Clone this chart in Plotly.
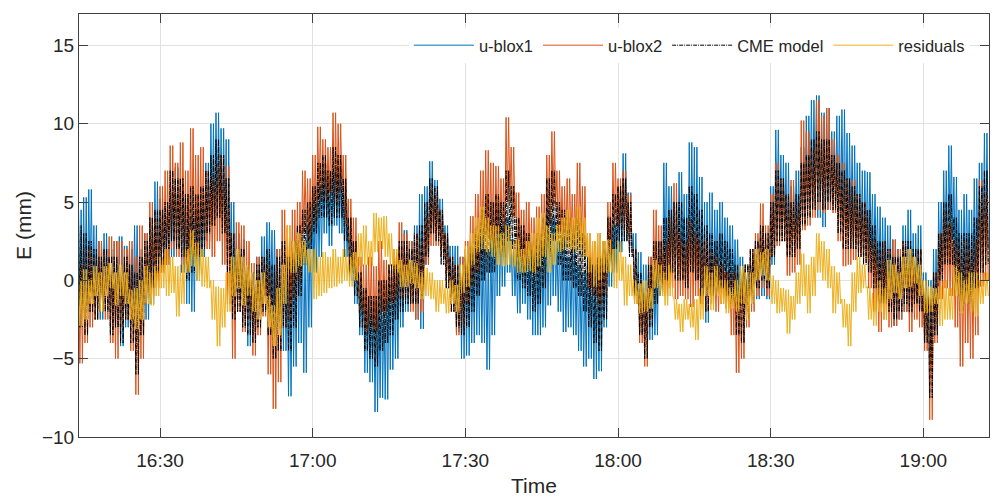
import plotly.graph_objects as go
from datetime import datetime, timedelta

# sample minutes after 16:00 (one envelope reading per minute)
minutes = list(range(14, 193))

blox1_hi = [4.5, 5.3, 5.8, 3.5, 2.5, 3.0, 2.0, 2.5, 2.8, 2.2,
            2.0, 3.5, 2.0, 3.0, 4.0, 6.3, 5.2, 4.5, 5.5, 7.2,
            6.0, 5.5, 4.0, 4.5, 5.0, 7.5, 10.0, 10.7, 9.7, 9.0,
            5.0, 3.0, 2.6, 1.0, 0.5, 1.5, 2.8, 3.7, 3.2, 2.0,
            1.5, 0.5, 1.5, 3.5, 2.5, 3.5, 5.0, 6.0, 7.5, 6.5,
            7.0, 7.2, 6.0, 4.0, 2.5, 0.5, -0.5, -1.0, -1.5, -1.0,
            -1.2, 0.9, 0.5, 2.0, 3.2, 2.5, 3.5, 5.5, 6.0, 7.6,
            6.4, 5.2, 3.5, 2.2, 2.2, 1.5, 2.0, 1.5, 2.0, 2.6,
            2.0, 3.0, 4.7, 3.5, 4.0, 2.6, 2.0, 2.6, 1.5, 2.0,
            1.5, 2.5, 4.5, 4.0, 2.5, 2.6, 1.5, 2.0, 1.0, 0.5,
            1.3, 0.5, 1.0, 2.5, 4.1, 3.5, 6.0, 8.1, 5.6, 3.0,
            1.8, 1.0, 1.5, 0.5, 2.5, 7.5, 6.0, 5.0, 6.9, 5.5,
            8.8, 8.5, 6.6, 5.0, 5.6, 4.5, 5.0, 4.0, 3.5, 2.6,
            1.5, 0.9, 1.5, 2.5, 3.2, 2.0, 6.0, 9.6, 8.0, 7.5,
            6.0, 7.0, 8.5, 10.5, 11.5, 11.8, 10.7, 11.0, 9.5, 10.5,
            10.9, 9.4, 8.6, 7.5, 7.0, 6.9, 5.5, 4.7, 4.0, 3.5,
            2.6, 2.0, 3.5, 4.5, 3.0, 3.5, 0.5, 0.0, 2.0, 5.0,
            7.0, 8.6, 6.6, 4.5, 5.5, 4.5, 6.5, 7.5, 9.4]
blox1_lo = [-1.5, -2.0, -1.0, -1.5, -2.5, -1.5, -3.0, -2.5, -4.2, -3.0,
            -1.5, -1.5, -2.0, -2.5, -1.5, 0.0, 0.5, 1.0, 1.5, 2.0,
            0.5, -1.5, -2.0, 0.0, 1.5, 2.5, 4.0, 4.5, 3.5, 1.0,
            -1.0, -1.2, -2.5, -4.2, -3.5, -2.5, -1.6, -1.0, -2.0, -3.0,
            -4.5, -7.4, -5.5, -4.0, -5.9, -3.0, 0.5, 1.5, 3.0, 2.2,
            3.5, 3.0, 1.5, 0.0, -1.5, -3.5, -5.9, -6.5, -8.4, -7.5,
            -7.6, -5.7, -5.0, -3.0, -2.0, -1.5, -2.5, -3.1, 1.0, 3.5,
            3.0, 1.5, 0.0, -1.0, -3.3, -5.0, -4.8, -4.0, -3.5, -4.0,
            -5.7, -3.5, -1.0, -0.4, 0.5, -1.0, -2.1, -1.5, -2.5, -3.5,
            -3.5, -3.0, -1.6, -1.0, -2.0, -3.3, -3.0, -3.5, -4.5, -5.5,
            -5.0, -6.3, -5.8, -3.0, -0.4, 0.5, 1.8, 2.5, 1.8, -1.0,
            -3.3, -3.5, -3.8, -3.5, -1.0, 0.9, 1.5, 0.5, 0.9, 0.0,
            1.0, 0.0, -1.5, -2.7, -1.0, 0.0, -0.5, -0.4, -0.8, -1.0,
            -1.5, -1.0, -0.8, -1.2, -1.0, -1.2, 1.0, 3.4, 3.0, 2.0,
            2.8, 3.0, 4.0, 4.7, 5.0, 4.0, 3.4, 4.5, 5.0, 4.0,
            3.5, 3.0, 2.6, 2.0, 1.8, 2.0, 1.0, -0.4, -0.5, -1.0,
            -2.9, -2.5, -2.0, -2.1, -1.5, -2.0, -3.5, -5.2, -3.0, 0.5,
            1.5, 2.6, 1.0, -1.2, 0.0, -0.5, 0.9, 1.5, 2.0]

blox2_hi = [1.0, 2.0, 2.0, 1.5, 2.5, 2.0, 2.8, 2.5, 2.5, 2.0,
            2.5, 1.5, 3.5, 3.0, 5.0, 4.0, 6.0, 7.0, 8.6, 7.5,
            8.8, 7.0, 9.7, 8.0, 8.5, 7.0, 6.5, 7.5, 8.0, 7.3,
            3.0, 3.7, 3.5, 2.5, 1.1, 1.5, 1.5, 1.0, 0.5, 2.0,
            4.5, 3.5, 4.5, 5.0, 7.0, 6.5, 8.0, 9.8, 9.0, 8.5,
            10.7, 10.0, 8.0, 5.2, 4.0, 1.5, 1.0, 1.5, 0.9, 2.5,
            1.3, 1.0, 2.0, 3.7, 3.0, 2.5, 3.0, 2.5, 4.0, 6.0,
            5.5, 4.5, 3.0, 1.5, 1.0, 1.5, 2.5, 4.1, 5.5, 7.0,
            8.3, 7.5, 7.3, 6.5, 10.4, 8.5, 5.6, 4.5, 5.0, 4.0,
            4.7, 5.5, 8.0, 9.5, 7.0, 6.0, 6.5, 5.5, 7.5, 6.0,
            3.0, 2.5, 3.0, 2.5, 5.0, 7.5, 6.5, 7.0, 5.5, 2.0,
            -0.1, -0.5, 1.5, 4.5, 3.5, 2.5, 4.0, 6.2, 3.0, 2.5,
            3.9, 3.0, 2.5, 2.6, 2.0, 1.5, 1.0, 0.5, 0.5, 0.5,
            0.5, 1.0, 2.0, 3.0, 4.9, 3.5, 5.5, 7.5, 6.5, 5.5,
            6.4, 5.0, 10.2, 9.5, 8.5, 11.5, 10.5, 11.0, 9.0, 8.0,
            7.5, 6.5, 6.4, 5.5, 5.0, 4.0, 2.6, 2.0, 2.5, 2.0,
            2.6, 2.0, 2.5, 2.0, 1.5, 2.0, -0.5, -1.2, 0.5, 3.0,
            4.5, 3.5, 2.6, 2.0, 2.5, 2.0, 2.6, 6.4, 5.5]
blox2_lo = [-5.3, -4.0, -3.0, -2.5, -2.0, -2.5, -4.0, -5.0, -3.0, -2.5,
            -4.5, -7.3, -5.0, -1.5, -1.0, -0.5, 0.5, 1.0, 2.0, 1.5,
            1.0, 0.5, 1.5, 1.5, 2.0, 2.0, 1.5, 2.5, 1.0, -1.5,
            -5.0, -2.0, -3.3, -2.5, -4.8, -3.5, -2.3, -6.0, -8.2, -6.5,
            -3.0, -2.5, -1.2, 0.0, 3.0, 2.5, 3.5, 5.2, 5.0, 5.6,
            5.0, 5.6, 3.5, 1.0, 0.0, -2.0, -3.3, -3.0, -3.3, -2.0,
            -2.0, -1.5, -1.2, -1.2, -1.0, -2.0, -2.5, -2.0, 1.0, 2.2,
            2.2, 1.5, -0.5, -2.0, -3.5, -3.0, -1.5, -0.4, 0.5, 1.5,
            2.6, 2.0, 3.0, 3.0, 5.0, 4.0, 1.5, 0.9, 1.0, 0.5,
            0.5, 1.5, 3.5, 4.7, 3.0, 2.2, 2.5, 2.2, 2.5, 1.5,
            -0.5, -1.0, -1.6, -1.0, 1.5, 3.5, 3.5, 3.0, 2.0, -1.5,
            -4.0, -5.5, -2.5, -0.4, -0.5, -1.0, -0.5, -1.2, -1.0, -1.2,
            -1.7, -1.0, -1.5, -2.0, -1.5, -2.0, -1.5, -1.8, -3.5, -5.9,
            -5.0, -3.0, -2.0, -1.0, -0.5, -1.0, 1.5, 2.2, 2.5, 0.3,
            0.5, 1.0, 3.2, 3.5, 4.0, 4.5, 4.3, 4.5, 4.3, 2.5,
            0.9, 1.0, 1.3, 1.5, 1.3, -0.5, -2.0, -3.3, -2.5, -3.0,
            -2.9, -2.5, -2.0, -3.3, -2.5, -3.0, -4.5, -8.9, -4.0, -1.2,
            -0.5, -1.0, -3.0, -5.5, -4.0, -5.0, -3.5, -0.4, 0.0]

cme_hi = [3.5, 3.0, 2.5, 2.0, 1.5, 2.0, 1.5, 1.5, 1.0, 1.5,
          1.0, 0.5, 1.5, 2.5, 4.0, 4.5, 4.5, 5.0, 7.0, 6.5,
          6.5, 5.5, 6.0, 5.5, 6.0, 7.0, 8.0, 9.0, 8.0, 6.5,
          3.0, 2.0, 2.0, 1.0, 0.5, 1.0, 1.5, 2.0, 1.0, 1.5,
          2.5, 1.5, 2.5, 3.5, 4.5, 5.0, 6.0, 7.5, 8.0, 7.0,
          8.5, 8.0, 6.5, 4.0, 2.5, 0.5, -0.5, -1.0, -1.0, 0.0,
          0.0, 1.0, 1.0, 2.5, 2.5, 2.0, 3.0, 3.5, 5.0, 6.5,
          6.0, 4.5, 3.0, 1.5, 1.0, 0.5, 1.5, 2.5, 3.5, 4.5,
          5.5, 5.0, 5.5, 5.0, 7.0, 6.0, 4.0, 3.5, 3.0, 2.5,
          3.0, 4.0, 6.5, 7.0, 5.0, 4.5, 4.0, 3.5, 4.0, 3.0,
          1.5, 1.0, 1.5, 2.0, 4.0, 5.5, 6.0, 6.5, 5.0, 2.0,
          0.5, -0.5, 1.0, 2.5, 2.5, 4.0, 4.5, 5.0, 5.0, 4.0,
          6.0, 5.5, 4.5, 3.5, 3.0, 2.5, 3.0, 2.5, 2.0, 1.0,
          0.5, 1.0, 2.0, 2.5, 3.5, 3.0, 5.0, 7.0, 6.5, 5.5,
          5.0, 5.5, 7.5, 8.0, 9.0, 9.5, 9.0, 9.0, 8.0, 7.5,
          7.0, 6.5, 6.0, 5.5, 5.0, 4.5, 3.5, 2.5, 2.5, 2.0,
          1.5, 1.5, 2.5, 2.5, 2.0, 2.0, 0.0, -1.0, 0.5, 3.0,
          5.0, 5.5, 4.0, 3.0, 3.0, 3.0, 4.0, 6.0, 7.0]
cme_lo = [-3.0, -3.5, -2.0, -2.5, -2.0, -2.0, -3.5, -3.0, -4.0, -2.5,
          -4.0, -6.0, -3.5, -1.5, -0.5, 0.5, 1.0, 2.0, 2.5, 2.0,
          1.5, 0.0, 0.5, 1.5, 2.0, 3.0, 3.5, 4.0, 3.0, 0.5,
          -2.5, -2.0, -3.0, -3.5, -4.0, -3.0, -2.0, -3.5, -5.0, -4.5,
          -3.0, -4.5, -3.0, -1.0, 1.0, 2.0, 3.0, 4.0, 4.0, 3.5,
          4.0, 4.0, 2.5, 0.5, -1.0, -3.0, -4.5, -5.0, -5.5, -4.5,
          -4.0, -3.5, -2.5, -2.0, -1.5, -1.5, -1.5, -1.0, 1.5, 3.0,
          2.5, 1.0, -0.5, -2.0, -3.0, -3.5, -3.0, -2.0, -1.0, 0.0,
          0.5, 0.5, 1.5, 1.5, 2.5, 2.0, 0.0, -0.5, -1.0, -2.0,
          -1.5, -0.5, 1.5, 2.5, 1.0, 0.0, 0.0, -0.5, -1.0, -2.0,
          -3.0, -4.0, -4.5, -2.5, 0.5, 2.0, 2.5, 2.5, 1.5, -1.0,
          -3.5, -5.0, -3.0, -1.5, -1.0, 0.0, 0.5, 0.0, 0.0, -0.5,
          0.5, 0.0, -1.0, -2.0, -1.0, -1.0, -0.5, -1.0, -1.5, -3.5,
          -4.0, -2.5, -1.5, -0.5, 0.0, -0.5, 1.5, 2.5, 2.5, 1.5,
          1.5, 2.0, 3.5, 4.0, 4.5, 5.0, 4.5, 5.0, 4.5, 3.0,
          2.0, 2.0, 2.0, 1.5, 1.0, 0.5, -0.5, -1.5, -1.5, -2.0,
          -2.5, -2.0, -1.5, -2.0, -1.5, -2.0, -4.0, -7.5, -3.5, 0.0,
          1.0, 1.0, -1.0, -2.0, -1.5, -2.0, -0.5, 0.5, 1.0]

resid_hi = [0.0, 0.7, 0.0, 0.9, 0.5, 0.9, 1.1, 0.5, 1.0, 0.5,
            -0.6, -0.5, 0.0, 0.9, 0.5, 0.9, 1.5, 2.0, 1.5, 0.9,
            1.0, 2.0, 3.2, 2.4, 2.0, 1.5, 0.0, -0.4, -0.5, 0.5,
            1.5, 2.0, 1.5, 1.0, 0.5, 0.0, 0.5, -1.0, -1.6, -0.5,
            1.0, 3.5, 2.5, 3.0, 2.5, 2.0, 2.0, 1.5, 1.8, 1.5,
            2.0, 1.5, 2.0, 1.5, 1.8, 3.0, 3.5, 2.5, 4.3, 4.0,
            4.1, 3.0, 2.0, 1.3, 1.0, 1.3, 1.1, 0.5, 0.8, 0.5,
            0.0, 0.0, -0.5, 0.0, -0.3, 1.0, 2.2, 3.0, 4.0, 4.7,
            4.0, 3.5, 3.5, 3.0, 3.5, 2.5, 2.6, 2.0, 2.5, 3.0,
            4.0, 4.3, 3.5, 3.0, 3.5, 4.0, 4.5, 4.0, 4.7, 4.0,
            3.0, 2.5, 3.0, 2.5, 2.6, 2.0, 2.5, 1.5, 1.0, 0.0,
            -0.2, 0.0, -0.5, 1.3, 1.0, 0.5, 1.0, -1.2, -1.5, -1.2,
            -1.5, -1.2, -0.5, 0.9, 0.5, 0.9, 0.0, 0.0, -0.5, 0.0,
            0.9, 0.5, 0.5, 2.0, 1.8, 2.0, 0.3, 0.0, -0.5, -0.6,
            -1.0, 0.5, 1.7, 1.0, 1.5, 3.0, 2.5, 2.0, 0.9, 0.5,
            -1.2, -1.5, 0.5, 1.5, 1.0, -0.4, -0.8, 0.0, -0.5, 1.3,
            1.0, 0.5, 1.5, 2.0, 1.5, 1.0, 0.0, -0.4, -0.5, -0.4,
            0.0, -0.5, 0.9, 0.5, 0.0, 0.5, 0.5, 0.0, 0.5]
resid_lo = [-2.9, -2.5, -1.5, -1.0, -2.0, -1.0, -0.5, -1.6, -1.0, -1.5,
            -2.5, -3.1, -2.5, -1.5, -1.6, -1.0, -0.5, -1.0, -0.8, -2.3,
            -1.5, 0.5, 0.9, 0.0, -0.4, -0.5, -2.5, -4.2, -3.0, -2.0,
            -1.0, -0.5, -1.6, -1.0, -2.0, -2.5, -1.5, -3.0, -4.2, -3.5,
            -1.5, 0.5, 0.5, 0.9, 1.0, 0.5, -1.2, -1.0, -0.8, -0.5,
            -0.4, -0.2, 0.0, -0.4, 0.0, 0.9, 1.0, 0.9, 1.8, 2.0,
            1.5, 0.9, 0.5, -0.4, -0.4, -0.2, -0.5, -1.2, -1.0, -1.2,
            -2.0, -1.5, -2.1, -1.5, -2.0, -0.8, -0.4, 1.0, 1.8, 2.0,
            1.8, 1.5, 1.0, 0.9, 1.0, 0.9, 0.5, 0.5, 0.6, 0.5,
            0.9, 1.5, 0.5, 1.0, 1.8, 2.0, 2.0, 1.8, 2.0, 1.5,
            0.5, -0.4, 0.0, 0.5, 0.5, -0.5, 0.0, -1.6, -1.0, -1.5,
            -2.1, -2.0, -1.8, -0.5, -1.0, -1.6, -1.0, -2.5, -3.3, -2.5,
            -3.0, -3.8, -2.5, -1.0, -1.9, -1.0, -1.5, -2.1, -1.8, -2.0,
            -1.5, -2.5, -1.5, 0.0, 0.3, 0.0, -1.5, -2.1, -2.0, -3.4,
            -2.5, -1.5, -1.0, -2.1, -1.0, 0.5, 0.0, -0.5, -2.1, -1.5,
            -3.0, -4.2, -2.0, -0.8, -0.5, -2.5, -2.9, -2.0, -2.5, -1.2,
            -0.8, -1.2, -0.5, -0.4, -0.2, -1.0, -2.1, -2.0, -1.5, -2.9,
            -2.5, -2.5, -1.0, -2.1, -1.5, -2.0, -2.3, -1.5, -1.0]

x_ticks = ["16:30", "17:00", "17:30", "18:00", "18:30", "19:00"]
y_ticks = [-10, -5, 0, 5, 10, 15]

base = datetime(2021, 1, 1, 16, 0, 0)


def envelope_trace(hi, lo):
    # each minute reading: swing between the upper and lower extent read
    # from the picture (the sensor noise fills the band between them)
    xs, ys = [], []
    for m, h, l in zip(minutes, hi, lo):
        for k, v in enumerate((h, l, h, l)):
            xs.append(base + timedelta(minutes=m + 0.25 * k))
            ys.append(v)
    return xs, ys


FONT = "Liberation Sans, Arial, Helvetica, sans-serif"
TXT = "#262626"

fig = go.Figure()
series = [
    ("u-blox1", blox1_hi, blox1_lo, "#0072BD", "solid", 1.0),
    ("u-blox2", blox2_hi, blox2_lo, "#D95319", "solid", 1.0),
    ("CME model", cme_hi, cme_lo, "#000000", "4px,1px,1px,1px", 1.0),
    ("residuals", resid_hi, resid_lo, "#EDB120", "solid", 1.0),
]
for name, hi, lo, col, dash, w in series:
    xs, ys = envelope_trace(hi, lo)
    fig.add_trace(go.Scatter(x=xs, y=ys, mode="lines", name=name,
                             line=dict(color=col, width=w, dash=dash)))

tickvals_x = [base.replace(hour=int(s[:2]), minute=int(s[3:])) for s in x_ticks]

fig.update_layout(
    width=992, height=497,
    margin=dict(l=79, r=3, t=14, b=60),
    paper_bgcolor="white", plot_bgcolor="white",
    font=dict(family=FONT, color=TXT, size=19),
    showlegend=True,
    legend=dict(orientation="h", x=0.979, xanchor="right", y=0.967, yanchor="top",
                bgcolor="white", borderwidth=0, font=dict(size=16.5, family=FONT, color=TXT),
                itemwidth=60, tracegroupgap=0),
    xaxis=dict(
        type="date",
        range=[base + timedelta(minutes=14.08), base + timedelta(minutes=192.9)],
        tickvals=tickvals_x, ticktext=x_ticks,
        ticks="inside", ticklen=9, tickwidth=1, tickcolor="#404040",
        showline=True, linecolor="#404040", linewidth=1, mirror="ticks",
        showgrid=True, gridcolor="#e2e2e2", gridwidth=1, zeroline=False,
        tickfont=dict(size=19, family=FONT, color=TXT),
        ticklabelstandoff=6,
        title=dict(text="Time", font=dict(size=21, family=FONT, color=TXT), standoff=10),
    ),
    yaxis=dict(
        range=[-10, 17], tickvals=y_ticks,
        ticks="inside", ticklen=9, tickwidth=1, tickcolor="#404040",
        showline=True, linecolor="#404040", linewidth=1, mirror="ticks",
        showgrid=True, gridcolor="#e2e2e2", gridwidth=1, zeroline=False,
        tickfont=dict(size=19, family=FONT, color=TXT),
        title=dict(text="E (mm)", font=dict(size=21, family=FONT, color=TXT), standoff=4),
    ),
)

fig.write_html("out.html")
